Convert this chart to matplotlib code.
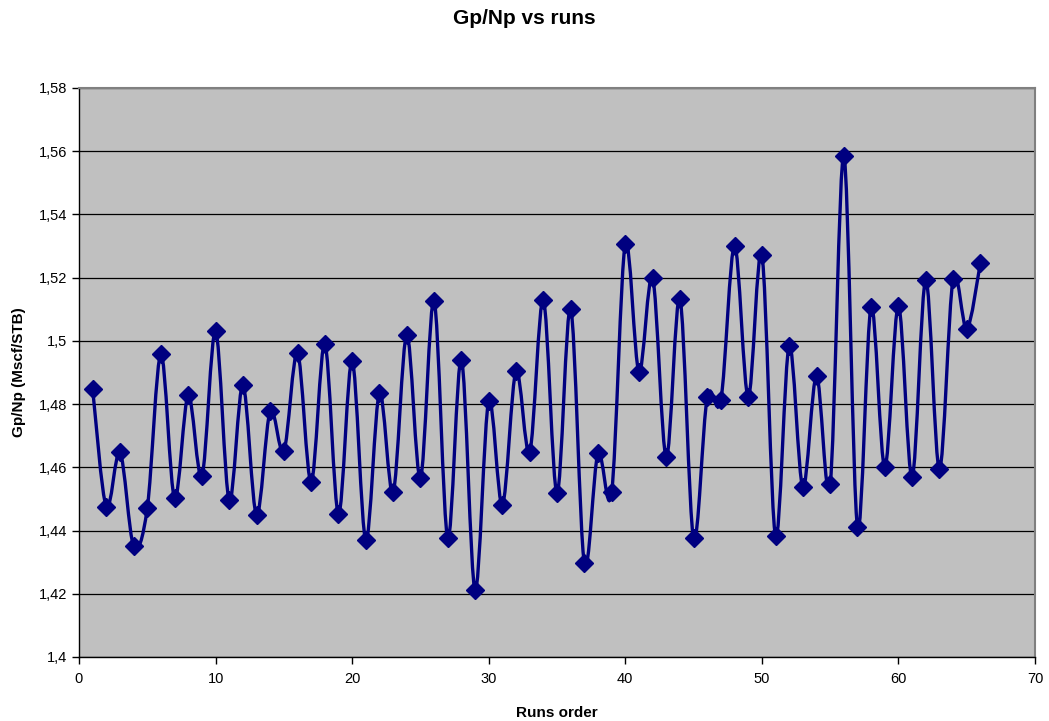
import numpy as np
import matplotlib.pyplot as plt
from matplotlib.path import Path
from matplotlib.patches import PathPatch

plt.rcParams['font.family'] = ['Liberation Sans', 'DejaVu Sans']

# Gp/Np ratio for each run (Mscf/STB)
runs = np.arange(1, 67)
gp_np = [
    1.4847, 1.4474, 1.4648, 1.4351, 1.4471, 1.4958, 1.4502, 1.4828, 1.4572, 1.5031,
    1.4496, 1.4860, 1.4449, 1.4778, 1.4651, 1.4962, 1.4553, 1.4990, 1.4452, 1.4937,
    1.4370, 1.4835, 1.4521, 1.5019, 1.4566, 1.5126, 1.4376, 1.4940, 1.4212, 1.4810,
    1.4481, 1.4905, 1.4648, 1.5129, 1.4518, 1.5101, 1.4297, 1.4645, 1.4521, 1.5307,
    1.4902, 1.5200, 1.4632, 1.5132, 1.4376, 1.4822, 1.4813, 1.5301, 1.4822, 1.5272,
    1.4382, 1.4984, 1.4537, 1.4889, 1.4547, 1.5585, 1.4411, 1.5107, 1.4600, 1.5110,
    1.4569, 1.5193, 1.4594, 1.5196, 1.5038, 1.5247,
]
y_ticks = [1.40, 1.42, 1.44, 1.46, 1.48, 1.50, 1.52, 1.54, 1.56, 1.58]
y_tick_labels = ['1,4', '1,42', '1,44', '1,46', '1,48', '1,5', '1,52', '1,54', '1,56', '1,58']
x_ticks = [0, 10, 20, 30, 40, 50, 60, 70]

navy = '#000080'


def smooth_path(x, y):
    # cubic Bezier through every point, Catmull-Rom style control points
    x = np.asarray(x, float)
    y = np.asarray(y, float)
    pts = np.column_stack([x, y])
    n = len(pts)
    verts = [pts[0]]
    codes = [Path.MOVETO]
    for i in range(n - 1):
        p0 = pts[i - 1] if i > 0 else pts[i]
        p1 = pts[i]
        p2 = pts[i + 1]
        p3 = pts[i + 2] if i + 2 < n else pts[i + 1]
        c1 = p1 + (p2 - p0) / 6.0
        c2 = p2 - (p3 - p1) / 6.0
        verts += [c1, c2, p2]
        codes += [Path.CURVE4] * 3
    return Path(verts, codes)


fig = plt.figure(figsize=(10.49, 7.21), dpi=100)
ax = fig.add_axes([0.0753, 0.0888, 0.9114, 0.7892])
ax.set_facecolor('#C0C0C0')

ax.add_patch(PathPatch(smooth_path(runs, gp_np), facecolor='none',
                       edgecolor=navy, lw=2.4, zorder=3))
ax.plot(runs, gp_np, linestyle='none', marker='D', markersize=9,
        color=navy, zorder=4)

ax.set_xlim(0, 70)
ax.set_ylim(1.40, 1.58)
ax.set_xticks(x_ticks)
ax.set_yticks(y_ticks)
ax.set_yticklabels(y_tick_labels)
ax.tick_params(labelsize=10.5, length=5, width=1, direction='out')
ax.tick_params(axis='x', pad=6)
ax.yaxis.grid(True, color='black', lw=0.9)
ax.set_axisbelow(True)

for side in ['top', 'right']:
    ax.spines[side].set_color('#808080')
    ax.spines[side].set_linewidth(1.5)
for side in ['left', 'bottom']:
    ax.spines[side].set_color('black')
    ax.spines[side].set_linewidth(1)

ax.set_xlabel('Runs order', fontsize=11, fontweight='bold', labelpad=14)
ax.set_ylabel('Gp/Np (Mscf/STB)', fontsize=11, fontweight='bold', labelpad=9)
fig.suptitle('Gp/Np vs runs', fontsize=15, fontweight='bold', y=0.987)

fig.savefig('out.png', dpi=100)
